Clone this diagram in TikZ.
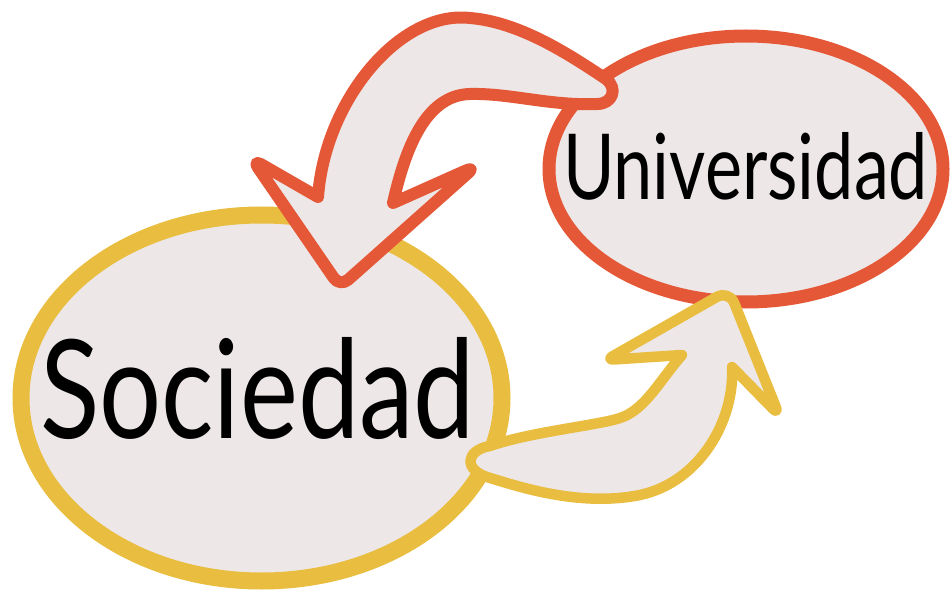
\documentclass[tikz,border=0pt]{standalone}
\usepackage{fontspec}
\setmainfont{Lato}
\usetikzlibrary{shapes.geometric}
\definecolor{bubblefill}{RGB}{237,231,231}
\definecolor{redline}{RGB}{229,88,55}
\definecolor{yellowline}{RGB}{233,190,64}
\tikzset{
  bubble/.style={ellipse, draw, fill=bubblefill, inner sep=0pt, outer sep=0pt},
  redarrow/.style={draw=redline, fill=bubblefill, line width=12pt, line join=round},
  yellowarrow/.style={draw=yellowline, fill=bubblefill, line width=10.5pt, line join=round},
  label/.style={inner sep=0pt, outer sep=0pt, anchor=base west, text=black}
}
\begin{document}
\begin{tikzpicture}[x=1pt, y=-1pt]
\useasboundingbox (0,0) rectangle (951,604);
% ellipses
\node[bubble, draw=yellowline, line width=17pt, minimum width=481pt, minimum height=366pt] (soc) at (261.5,398) {};
\node[bubble, draw=redline, line width=13pt, minimum width=394pt, minimum height=266pt] (uni) at (746,169) {};
% red arrow: Universidad -> Sociedad
\draw[redarrow] (597,104) .. controls (613,104) and (618,88) .. (606,79)
  .. controls (570,55) and (520,22) .. (470,18)
  .. controls (400,10) and (325,100) .. (318,197)
  [rounded corners=11pt] -- (252,159) -- (340,287) -- (476,166) [sharp corners] -- (393,203)
  .. controls (405,150) and (425,95) .. (470,94)
  .. controls (510,93) and (550,106) .. (597,104) -- cycle;
% yellow arrow: Sociedad -> Universidad
\draw[yellowarrow] (490,446) .. controls (530,432) and (600,425) .. (620,418)
  .. controls (645,410) and (660,380) .. (682,355)
  [rounded corners=8pt] -- (606,360) [rounded corners=14pt] -- (729,290) [rounded corners=9pt] -- (779,415) [sharp corners] -- (732,367)
  .. controls (735,420) and (700,482) .. (640,495)
  .. controls (580,507) and (520,487) .. (490,478)
  .. controls (462,470) and (466,450) .. (490,446) -- cycle;
% labels
\node[label] (soctext) at (40,438) {\resizebox{435pt}{101pt}{Sociedad}};
\node[label] (unitext) at (563,200) {\resizebox{365pt}{67pt}{Universidad}};
\end{tikzpicture}
\end{document}
